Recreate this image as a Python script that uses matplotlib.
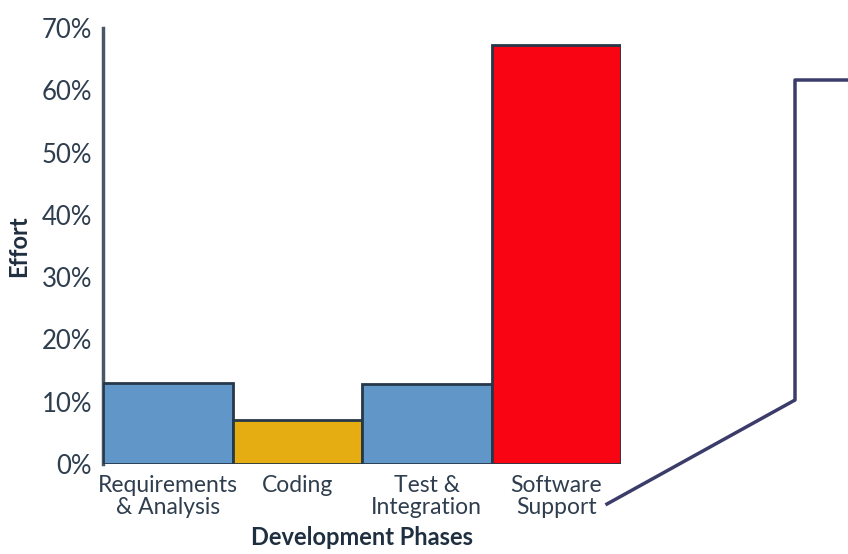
import matplotlib
matplotlib.use("Agg")
import matplotlib.pyplot as plt
from matplotlib.lines import Line2D

phases = ["Requirements\n& Analysis", "Coding", "Test &\nIntegration", "Software\nSupport"]
effort = [13.0, 7.0, 12.9, 67.2]
colors = ["#6197c8", "#e6ad12", "#6197c8", "#f80412"]
yticks = [0, 10, 20, 30, 40, 50, 60, 70]

plt.rcParams['font.family'] = ['Lato', 'DejaVu Sans']
W, H = 848, 554
fig = plt.figure(figsize=(W / 100, H / 100), dpi=100)
ax = fig.add_axes([103 / W, (H - 464) / H, (621 - 103) / W, (464 - 28) / H])

x = list(range(len(phases)))
ax.bar(x, effort, width=1.0, align='edge', color=colors, edgecolor="#26384a", linewidth=2, zorder=3)
ax.set_xlim(0, 4)
ax.set_ylim(0, 70)
ax.set_yticks(yticks)
ax.set_yticklabels([f"{v}%" for v in yticks], fontsize=18.5, color="#2f3e4e")
ax.set_xticks([i + 0.5 for i in x])
ax.set_xticklabels(phases, fontsize=16.5, color="#2f3e4e", linespacing=1.05)
ax.tick_params(axis='both', length=0)
ax.tick_params(axis='y', pad=8)
ax.tick_params(axis='x', pad=8)
for s in ["top", "right", "bottom"]:
    ax.spines[s].set_visible(False)
ax.spines["left"].set_color("#4a5866")
ax.spines["left"].set_linewidth(2.5)
ax.set_xlabel("Development Phases", fontsize=17, fontweight='bold', color="#1f2f40", labelpad=6)
ax.set_ylabel("Effort", fontsize=17, fontweight='bold', color="#1f2f40", labelpad=8)

# callout line
pts = [(607, 504), (795, 400), (795, 80), (848, 80)]
fig.add_artist(Line2D([p[0] / W for p in pts], [1 - p[1] / H for p in pts],
                      transform=fig.transFigure, color="#3b3c6a", linewidth=2.5))

fig.savefig("out.png", dpi=100)
